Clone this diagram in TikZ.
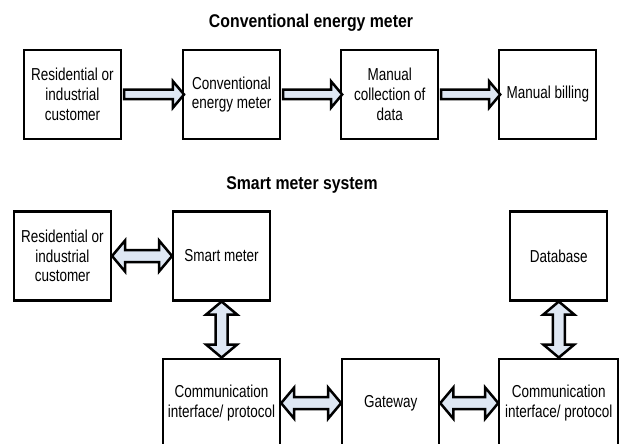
\documentclass[tikz,border=0pt]{standalone}
\usepackage{fontspec}
\setmainfont{Liberation Sans}[FakeStretch=0.78]
\newfontfamily\titlefont{Liberation Sans}[FakeStretch=0.86]
\usetikzlibrary{positioning,shapes.arrows}
\definecolor{arrowfill}{RGB}{222,231,243}
\tikzset{
    box/.style={draw, line width=2.1pt, minimum width=97pt, minimum height=89pt, inner sep=1pt, align=center, font=\fontsize{17.3}{19.8}\selectfont},
    heading/.style={font=\titlefont\bfseries\fontsize{18.4}{21}\selectfont, anchor=base},
    flow/.style={single arrow, draw, line width=2.5pt, fill=arrowfill, inner sep=3.5pt, minimum width=0pt, single arrow head extend=8.5pt, single arrow tip angle=100, sloped},
    dflow/.style={double arrow, draw, line width=2.5pt, fill=arrowfill, inner sep=4.75pt, minimum width=0pt, double arrow head extend=9.5pt, double arrow tip angle=100, sloped}
}

\begin{document}
\begin{tikzpicture}[x=1pt, y=1pt]
    \useasboundingbox (0,0) rectangle (619,-444);
    % conventional meter
    \node[heading] (t1) at (311,-28) {Conventional energy meter};
    \node[box] (cust) at (72.5,-94.5) {Residential or\\industrial\\customer};
    \node[box, right=60pt of cust] (conv) {Conventional\\energy meter};
    \node[box, right=59pt of conv] (coll) {Manual\\collection of\\data};
    \node[box, right=59pt of coll] (bill) {Manual billing};
    \path (cust) -- node[flow, minimum height=60pt]{} (conv);
    \path (conv) -- node[flow, minimum height=59pt]{} (coll);
    \path (coll) -- node[flow, minimum height=59pt]{} (bill);
    % smart meter
    \node[heading] (t2) at (302,-189) {Smart meter system};
    \node[box] (home) at (62.5,-256) {Residential or\\industrial\\customer};
    \node[box, right=60pt of home] (smart) {Smart meter};
    \node[box, minimum width=117pt, below=56pt of smart] (comm1) {Communication\\interface/ protocol};
    \node[box, right=60pt of comm1] (gate) {Gateway};
    \node[box, minimum width=119pt, right=58pt of gate] (comm2) {Communication\\interface/ protocol};
    \node[box, above=56pt of comm2] (db) {Database};
    \path (home) -- node[dflow, minimum height=60pt]{} (smart);
    \path (smart) -- node[dflow, minimum height=56pt]{} (comm1);
    \path (comm1) -- node[dflow, minimum height=60pt]{} (gate);
    \path (gate) -- node[dflow, minimum height=58pt]{} (comm2);
    \path (db) -- node[dflow, minimum height=56pt]{} (comm2);
\end{tikzpicture}
\end{document}
